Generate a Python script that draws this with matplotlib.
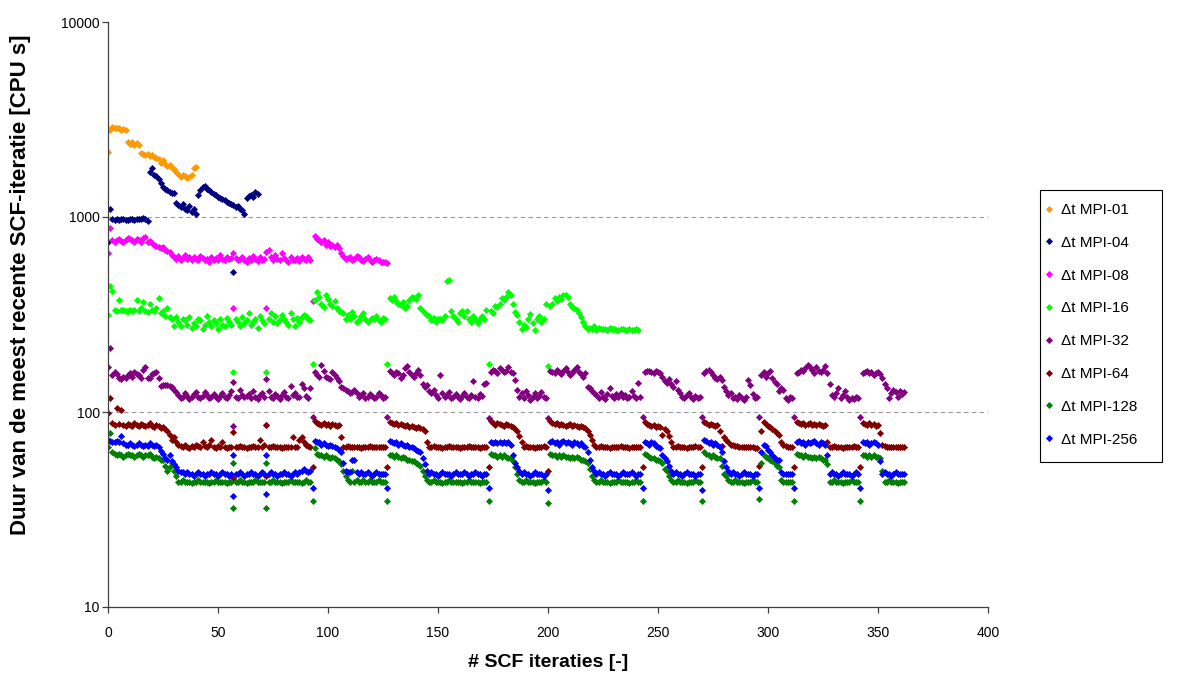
import matplotlib
matplotlib.use("Agg")
import matplotlib.pyplot as plt
from matplotlib.patches import Rectangle
from matplotlib.ticker import FixedLocator, NullLocator, FuncFormatter

plt.rcParams['font.family'] = ['Liberation Sans', 'DejaVu Sans']

# Each series is a list of (first iteration, values) blocks; a restart shows up
# as a block of a single value at the same iteration as another one.
mpi01 = [
    (0, [2150, 2800, 2880, 2850, 2870, 2860, 2800, 2840, 2780,
         2420, 2380, 2420, 2350, 2400, 2330,
         2120, 2100, 2080, 2100, 2060, 2080, 2030, 2000, 1980,
         1900, 1950, 1880, 1820, 1850, 1780, 1760,
         1700, 1660, 1600, 1640, 1620, 1580, 1600, 1650, 1780, 1800]),
]

mpi04 = [
    (0, [740, 1100, 975, 965, 975, 970, 980, 975, 965, 970, 975, 980, 965, 975, 972,
         978, 985, 975, 955,
         1700, 1780, 1650, 1620, 1560, 1500, 1430, 1400, 1370, 1350, 1320, 1320,
         1180, 1150, 1130, 1170, 1100, 1080, 1140, 1060, 1100, 1030,
         1300, 1380, 1420, 1440, 1400, 1380, 1350, 1310, 1290, 1270,
         1250, 1230, 1220, 1200, 1180, 1170, 1150, 1130, 1140, 1100,
         1080, 1040, 1250, 1280, 1300, 1270, 1350, 1310]),
    (57, [522]),
]

mpi08 = [
    (0, [650, 875, 760, 740, 760, 770, 750, 745, 760, 780, 770, 760, 745, 770, 760,
         740, 780, 792, 740, 750, 735, 720, 710, 700, 690, 700, 680, 670, 660, 640]),
    (30, [620, 610, 630, 600, 615, 640, 610, 620, 600, 625, 610, 605, 630, 615, 600,
          610, 590, 620, 605, 615, 600, 640, 610, 600, 620, 610, 615]),
    (57, [655]), (57, [340]),
    (58, [615, 600, 610, 625, 605, 590, 615, 600, 630, 610, 595, 620, 605, 610]),
    (72, [662]), (72, [340]),
    (73, [676, 620, 605, 640, 610, 600, 653, 615, 600, 590, 620, 605, 600, 615, 595,
          620, 610, 600, 625, 605]),
    (93, [372]),
    (94, [800, 775, 760, 740, 760, 720, 740, 710, 720, 700, 720, 690, 653, 630, 610,
          615, 620, 600, 610, 630, 620, 605, 595, 610, 620, 600, 590, 600, 610, 600,
          590, 585, 590, 580]),
]

mpi16 = [
    (0, [315, 443, 417, 335, 330, 375, 332, 335, 330, 328, 332, 330, 335, 375, 330,
         340, 365, 330, 325, 358, 335, 330, 340, 383]),
    (24, [320, 330, 310, 340, 308, 300, 275, 308, 290, 275, 300, 297, 280, 308, 270,
          285, 275, 300, 295, 268, 280, 310, 290, 275, 297, 285, 265, 300, 280, 275,
          305, 290, 280]),
    (57, [160]),
    (58, [300, 290, 275, 308, 285, 297, 320, 280, 290, 300, 270, 310, 295, 285]),
    (72, [160]),
    (73, [300, 320, 290, 310, 285, 295, 313, 300, 290, 280, 320, 300, 275, 305, 290,
          308, 315, 310, 300, 297]),
    (93, [176]),
    (94, [375, 413, 390, 360, 345, 397, 380, 360, 350, 370, 340, 330, 327, 320, 300,
          315, 300, 327, 310, 290, 297, 310, 320, 300, 290, 297, 305, 300, 310, 297,
          290, 305, 300]),
    (127, [176]),
    (128, [385, 375, 390, 370, 360, 355, 365, 340, 350, 375, 390, 385, 380, 400, 342,
           330, 320, 315, 310, 297, 305, 290, 300, 300, 295, 310, 470, 475, 330, 310,
           300, 290, 320, 330, 310, 330, 300, 290, 310, 300, 285, 300, 310, 300, 332]),
    (173, [176]),
    (174, [330, 320, 350, 345, 360, 383, 375, 390, 412, 400, 360, 325, 315, 290, 268,
           280, 272, 300, 318, 287, 262, 300, 310, 290, 300, 360]),
    (200, [172]),
    (201, [350, 360, 383, 370, 390, 380, 397, 400, 390, 360, 345, 340, 333, 320, 308,
           290, 275, 265, 270, 268, 275, 262, 270, 266, 268, 265, 262, 270, 266, 268,
           264, 262, 268, 266, 264, 262, 265, 264, 262, 266, 264]),
]

mpi32 = [
    (0, [170, 212, 155, 160, 156, 150, 148, 152, 150, 155, 158, 152, 160, 156, 154,
         150, 165, 170, 149, 150, 157, 158, 160, 150, 136, 138, 137, 138, 136, 135,
         130, 126]),
    (32, [122, 118, 120, 125, 121, 117, 120, 123, 127, 119, 118, 121, 126, 122, 118,
          120, 124, 119, 117, 121, 125, 120, 118, 122, 128]),
    (57, [143]), (57, [85]),
    (58, [120, 118, 129, 122, 119, 121, 124, 118, 128, 120, 117, 122, 125, 119]),
    (72, [148]), (72, [86]),
    (73, [128, 120, 118, 123, 121, 117, 122, 126, 119, 118, 136, 122, 125, 120, 119,
          140, 132, 121, 118, 132]),
    (93, [94]),
    (94, [160, 154, 152, 175, 162, 152, 150, 148, 160, 155, 149, 145, 135, 132, 130,
          128, 125, 127, 130, 125, 120, 122, 125, 118, 120, 124, 121, 118, 120, 125,
          122, 118, 120]),
    (127, [94]),
    (128, [162, 158, 155, 160, 158, 150, 155, 168, 172, 160, 155, 152, 158, 165, 155,
           140, 135, 138, 128, 125, 130, 122, 118, 155, 125, 120, 122, 126, 118, 120,
           124, 119, 117, 121, 125, 120, 118, 122, 145, 120, 118, 124, 121, 140, 141]),
    (173, [93]),
    (174, [160, 165, 162, 158, 168, 164, 160, 162, 170, 160, 158, 146, 130, 120, 125,
           118, 128, 122, 115, 120, 125, 118, 121, 127, 120, 118]),
    (200, [93]),
    (201, [162, 160, 158, 165, 160, 156, 162, 168, 160, 155, 158, 165, 170, 160, 156,
           152, 158, 135, 132, 128, 125, 122, 118, 126, 120, 117, 123, 133, 121, 118,
           124, 119, 125, 120, 122, 118, 120, 128, 121, 118, 141, 120]),
    (243, [94]),
    (244, [160, 163, 162, 160, 158, 162, 160, 158, 152, 145, 141, 148, 140, 135, 144,
           130, 125, 120, 118, 122, 125, 119, 117, 121, 118, 120]),
    (270, [94]),
    (271, [158, 162, 165, 160, 155, 150, 148, 152, 146, 135, 128, 122, 125, 118, 120,
           116, 122, 118, 115, 120, 146, 138, 124, 118, 120]),
    (296, [94]),
    (297, [155, 160, 152, 158, 162, 150, 143, 139, 128, 132, 130, 118, 115, 120, 118]),
    (312, [94]),
    (313, [158, 160, 165, 162, 168, 175, 170, 165, 158, 170, 162, 160, 165, 173, 158,
           140, 122, 120, 125, 133, 118, 122, 128, 120, 115, 118, 116, 120, 118]),
    (342, [94]),
    (343, [158, 160, 162, 158, 160, 155, 158, 160, 156, 150, 140, 133, 118, 125, 130,
           126, 120, 128, 124, 126]),
]

mpi64 = [
    (0, [99, 118, 88, 86, 105, 87, 102, 86, 85, 87, 86, 85, 88, 86, 85, 87, 86, 85,
         86, 88, 85, 84, 86, 85, 83, 84, 82, 80, 76, 72, 74, 70]),
    (32, [68, 67, 66, 68, 66, 65, 67, 66, 68, 67, 66, 70, 67, 66, 68, 72, 66, 65, 67,
          66, 70, 66, 65, 66, 66]),
    (57, [79]), (57, [46]),
    (58, [66, 66, 67, 66, 66, 65, 66, 66, 67, 66, 66, 72, 66, 68]),
    (72, [86]), (72, [47]),
    (73, [66, 66, 67, 66, 66, 66, 65, 66, 66, 66, 66, 74, 66, 66, 72, 74, 70, 68, 67, 66]),
    (93, [52]),
    (94, [90, 88, 87, 86, 88, 86, 87, 85, 87, 86, 85, 86, 74,
          66, 66, 67, 66, 66, 66, 66, 66, 65, 66, 66, 66, 67, 66, 66, 66, 66, 66, 66, 66]),
    (127, [52]),
    (128, [89, 88, 87, 88, 86, 87, 86, 85, 86, 84, 85, 84, 83, 84, 83, 82, 80, 70]),
    (146, [66, 66, 67, 66, 66, 66, 65, 66, 66, 67, 66, 66, 66, 66, 65, 66, 66, 66, 67,
           66, 66, 66, 66, 65, 66, 66, 66]),
    (173, [52]),
    (174, [90, 88, 86, 88, 87, 86, 85, 87, 86, 85, 84, 82, 80, 75, 70]),
    (189, [66, 67, 66, 66, 66, 65, 66, 66, 66, 67, 66]),
    (200, [50]),
    (201, [90, 88, 87, 88, 86, 87, 86, 85, 86, 87, 85, 86, 85, 84, 85, 84, 83,
           80, 76, 72, 68]),
    (222, [66, 66, 67, 66, 66, 66, 65, 66, 66, 66, 66, 67, 66, 66, 66, 65, 66, 66, 66,
           66, 66]),
    (243, [52]),
    (244, [89, 87, 86, 85, 86, 84, 85, 84, 76, 82, 80, 75, 70]),
    (257, [66, 66, 67, 66, 66, 66, 65, 66, 66, 66, 67, 66, 66]),
    (270, [52]),
    (271, [89, 88, 86, 87, 86, 85, 86, 80, 67, 74, 72, 70]),
    (283, [68, 68, 67, 67, 66, 66, 66, 66, 66, 66, 66, 65, 65]),
    (296, [53]),
    (297, [80, 89, 87, 85, 84, 82, 80, 78, 76, 70, 68, 67, 66, 66, 66]),
    (312, [52]),
    (313, [89, 88, 87, 88, 86, 87, 88, 86, 87, 86, 87, 86, 85, 86, 70]),
    (328, [66, 66, 67, 66, 66, 66, 65, 66, 66, 66, 66, 67, 66, 66]),
    (342, [52]),
    (343, [88, 87, 86, 88, 86, 87, 85, 86, 78, 68, 67, 66, 66, 66, 66, 66, 66, 66, 66, 66]),
]

mpi128 = [
    (0, [66, 78, 62, 61, 60, 61, 60, 59, 60, 61, 60, 60, 59, 60, 61, 60, 59, 60, 60,
         61, 59, 58, 59, 58, 57, 57, 53, 50, 52, 55, 50, 47]),
    (32, [44, 44, 45, 44, 44, 44, 43, 44, 44, 45, 44, 44, 44, 44, 43, 44, 44, 45, 44,
          44, 44, 44, 43, 44, 44]),
    (57, [55]), (57, [32]),
    (58, [44, 44, 45, 44, 44, 43, 44, 44, 44, 45, 44, 44, 44, 44]),
    (72, [55]), (72, [32]),
    (73, [44, 44, 45, 44, 44, 44, 43, 44, 44, 44, 45, 44, 44, 44, 44, 43, 44, 45, 44, 44]),
    (93, [35]),
    (94, [65, 61, 60, 60, 59, 60, 59, 58, 59, 58, 57, 56, 54, 50, 47, 45, 44, 50,
          44, 45, 44, 44, 45, 44, 44, 45, 44, 44, 44, 45, 44, 44, 44]),
    (127, [35]),
    (128, [60, 60, 59, 60, 59, 58, 59, 58, 57, 57, 56, 56, 55, 54, 53, 50, 47, 45]),
    (146, [44, 44, 45, 44, 44, 44, 43, 44, 44, 45, 44, 44, 44, 44, 44, 43, 44, 44, 45,
           44, 44, 44, 44, 43, 44, 44, 44]),
    (173, [35]),
    (174, [61, 60, 60, 59, 60, 59, 60, 59, 58, 58, 56, 52, 48, 45]),
    (188, [44, 44, 45, 44, 44, 44, 43, 44, 44, 44, 45, 44]),
    (200, [34]),
    (201, [61, 60, 60, 59, 60, 59, 60, 59, 59, 58, 59, 58, 59, 58, 57, 57, 56,
           55, 51, 47, 45]),
    (222, [44, 44, 45, 44, 44, 44, 43, 44, 44, 44, 45, 44, 44, 44, 44, 43, 44, 44, 45,
           44, 44]),
    (243, [35]),
    (244, [61, 60, 59, 58, 58, 57, 57, 56, 55, 51, 50, 47, 45]),
    (257, [44, 44, 45, 44, 44, 44, 43, 44, 44, 44, 45, 44, 44]),
    (270, [35]),
    (271, [62, 61, 60, 59, 60, 59, 58, 58, 53, 48, 47, 45]),
    (283, [44, 44, 45, 44, 44, 44, 43, 44, 44, 44, 45, 44, 44]),
    (296, [36]),
    (297, [55, 60, 59, 58, 57, 56, 55, 53, 52, 45, 44, 44, 44, 44, 44]),
    (312, [35]),
    (313, [61, 60, 60, 59, 60, 59, 59, 58, 59, 58, 59, 58, 57, 57, 54]),
    (328, [44, 44, 45, 44, 44, 44, 43, 44, 44, 44, 45, 44, 44, 44]),
    (342, [35]),
    (343, [60, 60, 59, 60, 59, 60, 59, 59, 58, 50]),
    (353, [44, 44, 45, 44, 44, 44, 43, 44, 44, 44]),
]

mpi256 = [
    (0, [72, 71, 70, 70, 71, 70, 75, 69, 68, 68, 69, 68, 67, 68, 69, 68, 67, 68, 67,
         69, 68, 67, 68, 66, 63, 61, 58, 57, 60, 56, 54, 52, 50, 49, 49]),
    (35, [48, 49, 48, 48, 47, 48, 49, 48, 48, 47, 48, 48, 49, 48, 48, 47, 48, 49, 48,
          48, 47, 48]),
    (57, [60]), (57, [37]),
    (58, [48, 48, 49, 48, 47, 48, 48, 49, 48, 48, 47, 48, 49, 48]),
    (72, [60]), (72, [38]),
    (73, [48, 49, 48, 48, 47, 48, 48, 49, 48, 48, 47, 48, 49, 48, 49, 50, 51, 50, 49, 50]),
    (93, [41]),
    (94, [71, 70, 70, 68, 69, 68, 67, 68, 67, 66, 65, 64, 62, 55, 50, 49, 49, 57, 57,
          49, 48, 49, 48, 48, 49, 48, 47, 48, 49, 48, 48, 48, 48]),
    (127, [41]),
    (128, [71, 70, 69, 70, 68, 69, 68, 67, 68, 66, 66, 65, 64, 63, 62, 58, 54, 50]),
    (146, [48, 49, 48, 48, 47, 48, 49, 48, 48, 48, 47, 48, 49, 48, 48, 48, 49, 48, 47,
           48, 48, 49, 48, 48, 47, 48, 48]),
    (173, [41]),
    (174, [70, 69, 70, 69, 70, 69, 70, 69, 70, 68, 60, 55, 52, 50]),
    (188, [48, 49, 48, 48, 47, 48, 49, 48, 48, 48, 47, 48]),
    (200, [40]),
    (201, [70, 71, 69, 70, 68, 70, 71, 69, 70, 69, 68, 70, 69, 68, 69, 67, 66,
           62, 57, 52, 50]),
    (222, [48, 49, 48, 48, 47, 48, 49, 48, 48, 48, 47, 48, 49, 48, 48, 48, 49, 48, 47,
           48, 48]),
    (243, [41]),
    (244, [70, 69, 68, 70, 69, 67, 66, 65, 60, 58, 56, 53, 50]),
    (257, [48, 49, 48, 48, 47, 48, 49, 48, 48, 48, 47, 48, 48]),
    (270, [40]),
    (271, [72, 71, 69, 70, 68, 69, 68, 66, 62, 56, 52, 50]),
    (283, [48, 49, 48, 48, 47, 48, 49, 48, 48, 48, 47, 48, 48]),
    (296, [41]),
    (297, [62, 68, 67, 64, 62, 60, 58, 57, 57, 49, 48, 48, 48, 48, 48]),
    (312, [41]),
    (313, [70, 71, 69, 70, 68, 70, 69, 70, 71, 69, 68, 70, 69, 68, 60]),
    (328, [48, 49, 48, 48, 47, 48, 49, 48, 48, 48, 47, 48, 49, 48]),
    (342, [41]),
    (343, [70, 69, 70, 68, 69, 70, 69, 68, 56]),
    (352, [48, 49, 48, 48, 47, 48, 49, 48, 48, 48, 48]),
]

labels = ['Δt MPI-01', 'Δt MPI-04', 'Δt MPI-08', 'Δt MPI-16',
          'Δt MPI-32', 'Δt MPI-64', 'Δt MPI-128', 'Δt MPI-256']
colors = ['#FF9900', '#000080', '#FF00FF', '#00FF00',
          '#800080', '#800000', '#008000', '#0000FF']
series = [mpi01, mpi04, mpi08, mpi16, mpi32, mpi64, mpi128, mpi256]


def unpack(blocks):
    xs, ys = [], []
    for start, vals in blocks:
        xs.extend(range(start, start + len(vals)))
        ys.extend(vals)
    return xs, ys


W, H = 1178, 681
fig = plt.figure(figsize=(W / 100, H / 100), dpi=100)
ax = fig.add_axes([108 / W, 1 - 607 / H, 880 / W, 585 / H])

for blocks, lab, col in zip(series, labels, colors):
    xs, ys = unpack(blocks)
    ax.plot(xs, ys, linestyle='none', marker='D', markersize=3.1,
            markerfacecolor=col, markeredgecolor=col, markeredgewidth=0.5,
            label=lab)

ax.set_yscale('log')
ax.set_ylim(10, 10000)
ax.set_xlim(0, 400)
ax.yaxis.set_major_locator(FixedLocator([10, 100, 1000, 10000]))
ax.yaxis.set_minor_locator(NullLocator())
ax.yaxis.set_major_formatter(FuncFormatter(lambda v, p: '%d' % v))
ax.set_xticks(range(0, 401, 50))

for yv in (100, 1000):
    ax.axhline(yv, color='#999999', linewidth=0.8, linestyle=(0, (4, 3)), zorder=0)

for side in ('top', 'right'):
    ax.spines[side].set_visible(False)
for side in ('left', 'bottom'):
    ax.spines[side].set_color('#404040')
    ax.spines[side].set_linewidth(0.9)
ax.tick_params(axis='both', direction='out', length=4.5, width=0.9, color='#404040',
               labelsize=10)
ax.tick_params(axis='x', pad=9)
ax.tick_params(axis='y', pad=1.5)

ax.set_xlabel('# SCF iteraties [-]', fontsize=14, fontweight='bold', labelpad=10)
ax.set_ylabel('Duur van de meest recente SCF-iteratie [CPU s]', fontsize=16,
              fontweight='bold')
ax.yaxis.set_label_coords((31 - 108) / 880, (607 - 285) / 585)

# legend box drawn separately so the entries can sit close to its left edge
fig.patches.append(Rectangle((1040 / W, 1 - 462 / H), 122 / W, 272 / H,
                             transform=fig.transFigure, fill=False,
                             edgecolor='black', linewidth=0.8))
leg = ax.legend(loc='upper left', bbox_to_anchor=(1043 / W, 1 - 203 / H),
                bbox_transform=fig.transFigure, borderaxespad=0, borderpad=0,
                fontsize=11, frameon=False, numpoints=1,
                handlelength=0.8, handletextpad=0.35, labelspacing=1.23)

fig.savefig('out.png', dpi=100)
